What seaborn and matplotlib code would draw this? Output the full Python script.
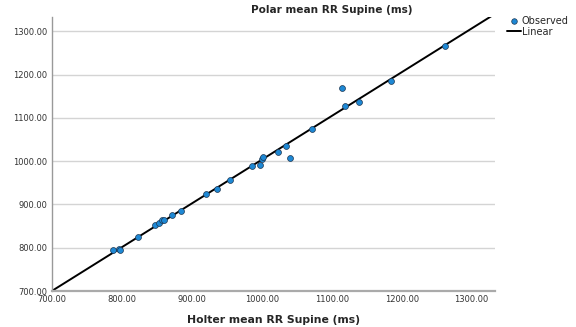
import matplotlib
matplotlib.use("Agg")
import matplotlib.pyplot as plt
import numpy as np
import pandas as pd
import seaborn as sns
from matplotlib.lines import Line2D
from matplotlib.ticker import FormatStrFormatter

# Holter vs Polar mean RR (ms)
holter = [788, 796, 797, 823, 848, 853, 857, 860, 872, 885, 921, 936, 954,
          986, 998, 1000, 1002, 1023, 1041, 1034, 1072, 1115, 1119, 1139,
          1184, 1262]
polar = [795, 798, 795, 824, 852, 858, 864, 864, 875, 885, 925, 935, 956,
         988, 990, 1005, 1009, 1021, 1008, 1035, 1075, 1170, 1127, 1137,
         1186, 1266]
ticks = [700, 800, 900, 1000, 1100, 1200, 1300]

df = pd.DataFrame({"Holter": holter, "Polar": polar})

sns.set_style("white")
fig = plt.figure(figsize=(5.76, 3.27), dpi=100)
ax = fig.add_axes([0.090, 0.110, 0.769, 0.838])
ax.set_xlim(700, 1333)
ax.set_ylim(700, 1333)

sns.regplot(
    data=df, x="Holter", y="Polar", ax=ax, ci=None, truncate=False,
    scatter=False, line_kws={"color": "black", "linewidth": 1.4},
)
sns.scatterplot(
    data=df, x="Holter", y="Polar", ax=ax, s=18, color="#1e88d4",
    edgecolor="#1c3550", linewidth=0.5, zorder=3,
)
ax.set_xlim(700, 1333)
ax.set_ylim(700, 1333)

ax.set_xticks(ticks)
ax.set_yticks(ticks)
ax.xaxis.set_major_formatter(FormatStrFormatter("%.2f"))
ax.yaxis.set_major_formatter(FormatStrFormatter("%.2f"))
ax.tick_params(labelsize=6, colors="#333333", length=0)
ax.tick_params(axis="x", pad=2.5)
ax.tick_params(axis="y", pad=3)
ax.yaxis.grid(True, color="#d4d4d4", linewidth=1)
ax.set_axisbelow(True)
for s in ["top", "right"]:
    ax.spines[s].set_visible(False)
ax.spines["left"].set_color("#999999")
ax.spines["left"].set_linewidth(1)
ax.spines["bottom"].set_color("#aaaaaa")
ax.spines["bottom"].set_linewidth(1.6)

ax.set_ylabel("")
ax.set_xlabel("Holter mean RR Supine (ms)", fontsize=7.8, fontweight="bold",
              labelpad=8)
fig.text(332 / 576, 1 - 10 / 327, "Polar mean RR Supine (ms)", fontsize=7.6,
         fontweight="bold", ha="center", va="center")

handles = [
    Line2D([], [], marker="o", linestyle="", markersize=4,
           markerfacecolor="#1e88d4", markeredgecolor="#1c3550",
           markeredgewidth=0.5),
    Line2D([], [], color="black", linewidth=1.4),
]
fig.legend(handles, ["Observed", "Linear"], loc="upper left",
           bbox_to_anchor=(0.872, 0.965), frameon=False, fontsize=7,
           handlelength=1.4, handletextpad=0.1, labelspacing=0.05,
           borderpad=0)

fig.savefig("out.png", dpi=100)
